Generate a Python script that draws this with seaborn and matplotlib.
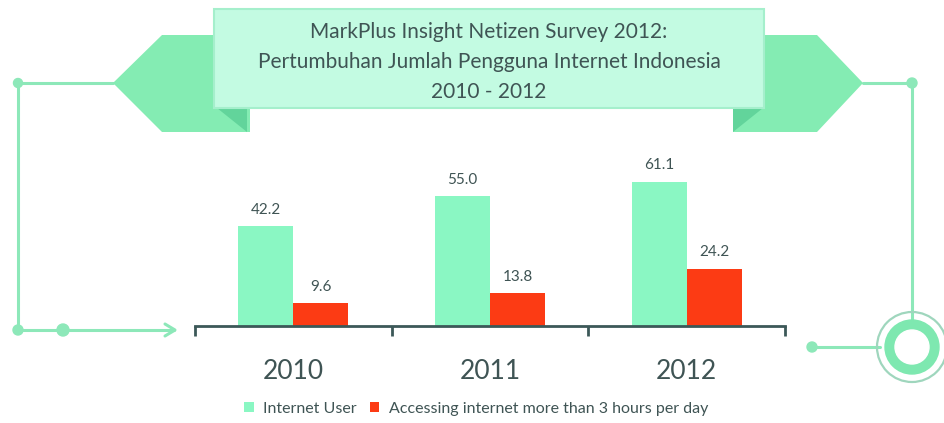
import matplotlib
matplotlib.use('Agg')
import matplotlib.pyplot as plt
import seaborn as sns
import pandas as pd
from matplotlib.patches import Polygon, Rectangle, Circle

# ---- data ----
years = ['2010', '2011', '2012']
internet_user = [42.2, 55.0, 61.1]
over_3_hours = [9.6, 13.8, 24.2]
series_names = ['Internet User', 'Accessing internet more than 3 hours per day']
title_lines = ['MarkPlus Insight Netizen Survey 2012:',
               'Pertumbuhan Jumlah Pengguna Internet Indonesia',
               '2010 - 2012']

# ---- style ----
GREEN = '#8af7c3'
RED = '#fc3b14'
TEXT = '#3f5454'
AXIS = '#3c5858'
LINE = '#8de8b9'
ARROW = '#84ecb3'
FOLD = '#62d49b'
BOX = '#c3fbe2'
BOX_EDGE = '#a5efcc'

sns.set_theme(style='white')
plt.rcParams['font.family'] = ['Lato', 'DejaVu Sans']

W, H = 945, 423
fig = plt.figure(figsize=(W / 100, H / 100), dpi=100)
fig.patch.set_facecolor('white')

# decoration layer in pixel coordinates
deco = fig.add_axes([0, 0, 1, 1])
deco.set_xlim(0, W)
deco.set_ylim(H, 0)
deco.axis('off')
deco.set_zorder(0)

# main chart axes
ax = fig.add_axes([195 / W, 1 - 326 / H, 590 / W, 176 / H])
ax.set_zorder(1)
ax.patch.set_visible(False)

df = pd.DataFrame({
    'year': years * 2,
    'value': internet_user + over_3_hours,
    'series': [series_names[0]] * len(years) + [series_names[1]] * len(years),
})
sns.barplot(data=df, x='year', y='value', hue='series', palette=[GREEN, RED],
            width=0.56, saturation=1, linewidth=0, ax=ax)
ax.set_xlim(-0.5, 2.5)
ax.set_ylim(0, 74.6)
for c in ax.containers:
    ax.bar_label(c, fmt='%.1f', padding=7, fontsize=11, color=TEXT)

for s in ['left', 'right', 'top']:
    ax.spines[s].set_visible(False)
ax.spines['bottom'].set_color(AXIS)
ax.spines['bottom'].set_linewidth(2)
ax.set_xticks([-0.5, 0.5, 1.5, 2.5], minor=True)
ax.tick_params(axis='x', which='minor', direction='out', length=7, width=2,
               color=AXIS, bottom=True)
ax.tick_params(axis='x', which='major', length=0, pad=24, labelsize=19,
               labelcolor=TEXT)
ax.set_yticks([])
ax.set_xlabel('')
ax.set_ylabel('')

sns.move_legend(ax, 'center', bbox_to_anchor=(476 / W, 1 - 409 / H),
                bbox_transform=fig.transFigure, ncol=2, frameon=False,
                title=None, fontsize=11.5, handlelength=0.6, handleheight=0.6,
                handletextpad=0.6, columnspacing=0.8, labelcolor=TEXT)

# ---- decorations ----
lw = 2.2
# left frame lines
deco.plot([18, 113], [83, 83], color=LINE, lw=lw, solid_capstyle='round')
deco.plot([18, 18], [83, 330], color=LINE, lw=lw)
deco.plot([18, 174], [330, 330], color=LINE, lw=lw)
deco.plot([165, 175, 165], [324, 330, 336], color=LINE, lw=lw)
for (cx, cy, r) in [(18, 83, 4.5), (18, 330, 5), (63, 330, 6)]:
    deco.add_patch(Circle((cx, cy), r, color=LINE, zorder=3))

# right frame lines
deco.plot([863, 912], [83, 83], color=LINE, lw=lw)
deco.plot([912, 912], [83, 325], color=LINE, lw=lw)
deco.plot([812, 880], [347, 347], color=LINE, lw=lw)
for (cx, cy, r) in [(912, 83, 5), (812, 347, 5)]:
    deco.add_patch(Circle((cx, cy), r, color=LINE, zorder=3))
deco.add_patch(Circle((912, 347), 35, fill=False, ec='#9fd6bd', lw=1.6, zorder=3))
deco.add_patch(Circle((912, 347), 27, color='#7ee8b0', zorder=3))
deco.add_patch(Circle((912, 347), 17, color='white', zorder=4))

# banner side arrows
deco.add_patch(Polygon([(113, 83), (162, 35), (250, 35), (250, 132), (162, 132)],
                       closed=True, color=ARROW, lw=0, zorder=2))
deco.add_patch(Polygon([(733, 35), (817, 35), (863, 83), (817, 132), (733, 132)],
                       closed=True, color=ARROW, lw=0, zorder=2))
# folds
deco.add_patch(Polygon([(217, 108), (247, 108), (247, 132)], closed=True,
                       color=FOLD, lw=0, zorder=3))
deco.add_patch(Polygon([(733, 108), (763, 108), (733, 132)], closed=True,
                       color=FOLD, lw=0, zorder=3))
# main box
deco.add_patch(Rectangle((214, 9), 550, 99, facecolor=BOX, edgecolor=BOX_EDGE,
                         lw=1.5, zorder=4))
for i, line in enumerate(title_lines):
    deco.text(489, 32 + 30 * i, line, ha='center', va='center', fontsize=15,
              color=TEXT, zorder=5)

fig.savefig('out.png', dpi=100, facecolor='white')
